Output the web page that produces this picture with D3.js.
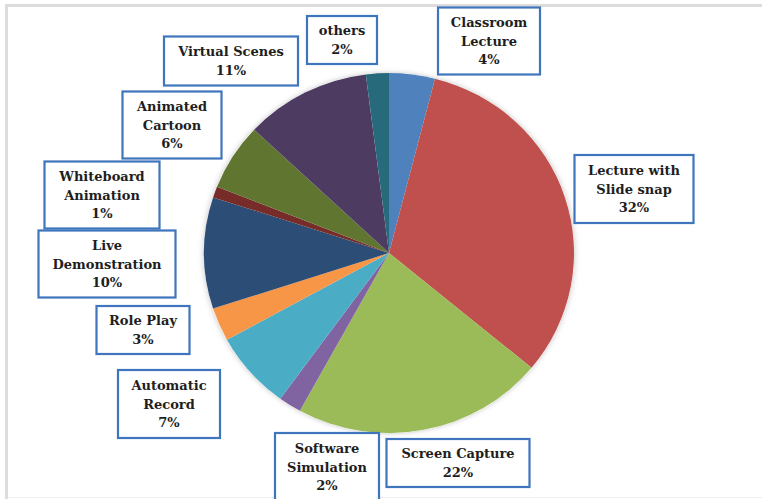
<!DOCTYPE html>
<html>
<head>
<meta charset="utf-8">
<script src="https://cdn.jsdelivr.net/npm/d3@7"></script>
<style>
  html, body { margin: 0; padding: 0; background: #fff; }
  svg { display: block; }
  .lbl text { font-family: "DejaVu Serif", serif; font-weight: bold; font-size: 13px; fill: #1e1e1e; }
</style>
</head>
<body>
<svg id="chart" width="762" height="499"></svg>
<script>
// slices, clockwise from 12 o'clock
const categories = ["Classroom Lecture", "Lecture with Slide snap", "Screen Capture", "Software Simulation",
  "Automatic Record", "Role Play", "Live Demonstration", "Whiteboard Animation",
  "Animated Cartoon", "Virtual Scenes", "others"];
const shares = [4, 32, 22, 2, 7, 3, 10, 1, 6, 11, 2];
// how each label wraps inside its box
const labelLines = [
  ["Classroom", "Lecture"], ["Lecture with", "Slide snap"], ["Screen Capture"], ["Software", "Simulation"],
  ["Automatic", "Record"], ["Role Play"], ["Live", "Demonstration"], ["Whiteboard", "Animation"],
  ["Animated", "Cartoon"], ["Virtual Scenes"], ["others"]
];
const colors = ["#4F81BD", "#C0504D", "#9BBB59", "#8064A2", "#4BACC6", "#F79646",
  "#2C4D75", "#772C2A", "#5F7530", "#4D3B62", "#276A7C"];

// label box layout: centre x, centre y, width, height
const boxes = [
  [489, 41, 102, 67], [634, 189, 119, 68], [458, 463, 143, 48], [327, 467, 104, 68],
  [169, 404, 102, 68], [143, 330, 93, 48], [107, 264, 137, 67], [102, 195, 115, 67],
  [172, 125, 99, 67], [231, 61, 134, 49], [342, 40, 70, 48]
];

const svg = d3.select("#chart");
const W = 762, H = 499;
const cx = 389, cy = 253, r = 185, squash = 0.973;
const lineH = 18.5;

const defs = svg.append("defs");
const sh = defs.append("filter").attr("id", "shadow")
  .attr("x", "-10%").attr("y", "-10%").attr("width", "120%").attr("height", "120%");
sh.append("feDropShadow").attr("dx", 0).attr("dy", 0).attr("stdDeviation", 3)
  .attr("flood-color", "#000").attr("flood-opacity", 0.25);

// outer frame (top and left edges visible)
svg.append("line").attr("x1", 5).attr("x2", W).attr("y1", 5.5).attr("y2", 5.5)
  .attr("stroke", "#dcdcdc").attr("stroke-width", 3);
svg.append("line").attr("x1", 6.5).attr("x2", 6.5).attr("y1", 5).attr("y2", H)
  .attr("stroke", "#dcdcdc").attr("stroke-width", 3);
svg.append("line").attr("x1", 8).attr("x2", W).attr("y1", 497.5).attr("y2", 497.5)
  .attr("stroke", "#eeeeee").attr("stroke-width", 1);

const pie = d3.pie().sort(null).value(d => d);
const arc = d3.arc().innerRadius(0).outerRadius(r);
const arcs = pie(shares);

const g = svg.append("g").attr("transform", `translate(${cx},${cy}) scale(1,${squash})`);
g.append("circle").attr("r", r).attr("fill", "#fff").attr("filter", "url(#shadow)");
g.selectAll("path.slice").data(arcs).enter().append("path")
  .attr("class", "slice")
  .attr("d", arc)
  .attr("fill", (d, i) => colors[i]);

const lbl = svg.selectAll("g.lbl").data(arcs).enter().append("g")
  .attr("class", "lbl")
  .attr("transform", (d, i) => `translate(${boxes[i][0]},${boxes[i][1]})`);

lbl.append("rect")
  .attr("x", (d, i) => -boxes[i][2] / 2)
  .attr("y", (d, i) => -boxes[i][3] / 2)
  .attr("width", (d, i) => boxes[i][2])
  .attr("height", (d, i) => boxes[i][3])
  .attr("fill", "#fff")
  .attr("stroke", "#3F75BC")
  .attr("stroke-width", 2.2);

lbl.each(function (d, i) {
  const lines = labelLines[i].concat([Math.round(d.value) + "%"]);
  const t0 = -(lines.length - 1) * lineH / 2;
  d3.select(this).selectAll("text").data(lines).enter().append("text")
    .attr("text-anchor", "middle")
    .attr("dominant-baseline", "central")
    .attr("y", (s, k) => t0 + k * lineH)
    .text(s => s);
});
</script>
</body>
</html>
